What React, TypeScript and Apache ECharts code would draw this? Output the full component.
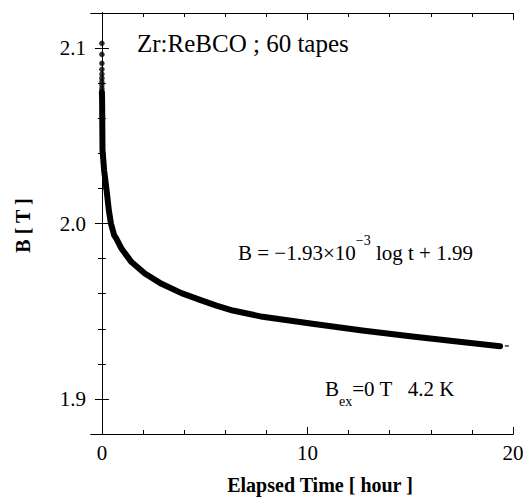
import React, { useEffect, useRef } from "react";
import * as echarts from "echarts";

// Sparse dots at the very start (t ≈ 0 h)
const dotTimes = [0, 0, 0, 0, 0, 0, 0, 0, 0];
const dotValues = [2.1027, 2.0964, 2.0913, 2.0879, 2.0852, 2.0828, 2.0808, 2.079, 2.077];

// Dense decay curve (hours, tesla)
const curveTimes = [0.0, 0.01, 0.03, 0.11, 0.23, 0.34, 0.44, 0.6, 0.71, 0.96, 1.44, 2.09, 2.9, 3.87, 4.84, 5.57, 6.37, 7.82, 10.24, 12.67, 15.1, 17.5, 19.37];
const curveValues = [2.075, 2.0704, 2.0419, 2.0302, 2.0188, 2.0074, 2.0, 1.9932, 1.9913, 1.9856, 1.978, 1.9715, 1.9656, 1.9603, 1.9562, 1.9532, 1.9504, 1.9468, 1.9428, 1.939, 1.9356, 1.9324, 1.93];

// Small trailing mark
const tailTimes = [19.7];
const tailValues = [1.9302];

const xMajorTicks = [0, 10, 20];
const xMinorTicks = [2, 4, 6, 8, 12, 14, 16, 18];
const yMajorTicks = [1.9, 2.0, 2.1];
const yMinorTicks = [1.92, 1.94, 1.96, 1.98, 2.02, 2.04, 2.06, 2.08];

const SERIF = "Liberation Serif, Times New Roman, DejaVu Serif, serif";

export default function App() {
  const ref = useRef<HTMLDivElement>(null);
  useEffect(() => {
    if (!ref.current) return;
    const chart = echarts.init(ref.current, null, { renderer: "svg" });
    const xMin = -0.53, xMax = 20, yMin = 1.88, yMax = 2.12;
    const line = { show: true, lineStyle: { color: "#000", width: 1 } };
    const mkX = (pos: string, ticks: number[], len: number, labels: boolean, name?: boolean) => ({
      type: "value",
      position: pos,
      min: xMin,
      max: xMax,
      axisLine: line,
      splitLine: { show: false },
      axisTick: { show: true, inside: true, length: len, customValues: ticks, lineStyle: { color: "#000", width: 1 } },
      axisLabel: labels
        ? { show: true, customValues: xMajorTicks, color: "#000", fontSize: 21, fontFamily: SERIF, margin: 8, formatter: (v: number) => String(v) }
        : { show: false },
      ...(name
        ? {
            name: "Elapsed Time [ hour ]",
            nameLocation: "middle",
            nameGap: 41,
            nameTextStyle: { color: "#000", fontSize: 20, fontWeight: "bold", fontFamily: SERIF, padding: [0, 0, 0, 36] },
          }
        : {}),
    });
    const mkY = (pos: string, ticks: number[], len: number, labels: boolean, name?: boolean) => ({
      type: "value",
      position: pos,
      min: yMin,
      max: yMax,
      axisLine: line,
      splitLine: { show: false },
      axisTick: { show: true, inside: true, length: len, customValues: ticks, lineStyle: { color: "#000", width: 1 } },
      axisLabel: labels
        ? { show: true, customValues: yMajorTicks, color: "#000", fontSize: 21, fontFamily: SERIF, margin: 5, formatter: (v: number) => v.toFixed(1) }
        : { show: false },
      ...(name
        ? {
            name: "B [ T ]",
            nameLocation: "middle",
            nameGap: 58,
            nameRotate: 90,
            nameTextStyle: { color: "#000", fontSize: 20, fontWeight: "bold", fontFamily: SERIF, padding: [0, 4, 0, 0] },
          }
        : {}),
    });
    chart.setOption({
      animation: false,
      backgroundColor: "#fff",
      textStyle: { fontFamily: SERIF },
      grid: { left: 91, right: 13, top: 13, bottom: 63, containLabel: false, outerBoundsMode: "none" },
      xAxis: [
        mkX("bottom", xMajorTicks, 7, true, true),
        mkX("bottom", xMinorTicks, 4, false),
        mkX("top", xMajorTicks, 7, false),
        mkX("top", xMinorTicks, 4, false),
      ],
      yAxis: [
        mkY("left", yMajorTicks, 7, true, true),
        mkY("left", yMinorTicks, 4, false),
        mkY("right", yMajorTicks, 7, false),
        mkY("right", yMinorTicks, 4, false),
      ],
      series: [
        {
          type: "line",
          data: curveTimes.map((t, i) => [t, curveValues[i]]),
          showSymbol: false,
          smooth: false,
          lineStyle: { color: "#000", width: 6, cap: "round", join: "round" },
          silent: true,
        },
        {
          type: "scatter",
          data: dotTimes.map((t, i) => [t, dotValues[i]]),
          symbol: "circle",
          symbolSize: 5.5,
          itemStyle: { color: "#000" },
          silent: true,
        },
        {
          type: "scatter",
          data: tailTimes.map((t, i) => [t, tailValues[i]]),
          symbol: "rect",
          symbolSize: [4, 1.5],
          itemStyle: { color: "#000" },
          silent: true,
        },
      ],
      graphic: [
        {
          type: "text",
          left: 137,
          top: 31,
          style: { text: "Zr:ReBCO ; 60 tapes", fill: "#000", fontSize: 25, fontFamily: SERIF },
        },
        {
          type: "text",
          left: 238,
          top: 233,
          style: {
            text: "{b|B = −1.93×10}{s|−3}{b| log t + 1.99}",
            rich: {
              b: { fontSize: 21, fontFamily: SERIF, fill: "#000", lineHeight: 30, verticalAlign: "bottom" },
              s: { fontSize: 14, fontFamily: SERIF, fill: "#000", lineHeight: 22, verticalAlign: "top" },
            },
          },
        },
        {
          type: "text",
          left: 325,
          top: 378,
          style: {
            text: "{b|B}{s|ex}{b|=0 T   4.2 K}",
            rich: {
              b: { fontSize: 21, fontFamily: SERIF, fill: "#000", lineHeight: 30, verticalAlign: "top" },
              s: { fontSize: 14, fontFamily: SERIF, fill: "#000", lineHeight: 20, verticalAlign: "bottom" },
            },
          },
        },
      ],
    });
    return () => chart.dispose();
  }, []);
  return <div ref={ref} style={{ width: 526, height: 497, position: "absolute", left: 0, top: 0 }} />;
}
